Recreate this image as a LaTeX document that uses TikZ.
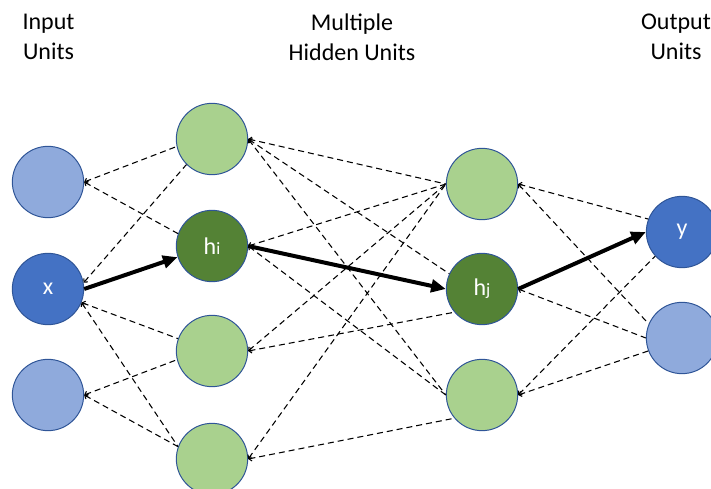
\documentclass[tikz,border=0pt]{standalone}
\usepackage{fontspec}
\setmainfont{Carlito}
\usetikzlibrary{arrows.meta}
\definecolor{paleblue}{HTML}{8FAADC}
\definecolor{midblue}{HTML}{4472C4}
\definecolor{rimblue}{HTML}{2F5597}
\definecolor{palegreen}{HTML}{A9D18E}
\definecolor{darkgreen}{HTML}{548235}
\begin{document}
\begin{tikzpicture}[x=0.75pt,y=-0.75pt,
  unit/.style={circle,draw=rimblue,line width=0.75pt,minimum size=53.5pt,inner sep=0pt,
    text=white,font=\fontsize{18}{22}\selectfont},
  inpale/.style={unit,fill=paleblue},
  inbold/.style={unit,fill=midblue},
  hidpale/.style={unit,fill=palegreen},
  hidbold/.style={unit,fill=darkgreen},
  link/.style={dash pattern=on 4.5pt off 3pt,line width=0.8pt,
    {Straight Barb[length=2pt,width=4pt]}-},
  flow/.style={line width=3pt,-{Triangle[length=11pt,width=9.5pt]}},
  title/.style={align=center,font=\fontsize{18}{22.5}\selectfont}
]
\useasboundingbox (0,0) rectangle (711,489);
\clip (0,0) rectangle (711,489);

% layer captions
\node[title] (capin)  at (48.5,37) {Input\\Units};
\node[title] (caphid) at (352,37)  {Multiple\\Hidden Units};
\node[title] (capout) at (676,37)  {Output\\Units};

% input layer
\node[inpale] (i1) at (48,182) {};
\node[inbold] (i2) at (48,289) {x};
\node[inpale] (i3) at (48,395) {};

% first hidden layer
\node[hidpale] (a1) at (212,139) {};
\node[hidbold] (a2) at (212,246) {h{\fontsize{13}{15}\selectfont i}};
\node[hidpale] (a3) at (212,351) {};
\node[hidpale] (a4) at (212,459) {};

% second hidden layer
\node[hidpale] (b1) at (482,184) {};
\node[hidbold] (b2) at (482,289) {h{\fontsize{13}{15}\selectfont j}};
\node[hidpale] (b3) at (482,395) {};

% output layer
\node[inbold] (o1) at (682,232) {y};
\node[inpale] (o2) at (682,338) {};

% weak connections
\draw[link] (i1.0) -- (a1.192);
\draw[link] (i1.0) -- (a2.160);
\draw[link] (i2.10) -- (a1.225);
\draw[link] (i2.-22) -- (a3.160);
\draw[link] (i2.-22) -- (a4.160);
\draw[link] (i3.0) -- (a3.194);
\draw[link] (i3.0) -- (a4.160);

\draw[link] (a1.0) -- (b1.180);
\draw[link] (a1.0) -- (b2.155);
\draw[link] (a1.0) -- (b3.180);
\draw[link] (a2.0) -- (b1.180);
\draw[link] (a2.0) -- (b3.180);
\draw[link] (a3.0) -- (b1.180);
\draw[link] (a3.0) -- (b2.220);
\draw[link] (a4.0) -- (b1.180);
\draw[link] (a4.0) -- (b3.220);

\draw[link] (b1.0) -- (o1.159);
\draw[link] (b1.0) -- (o2.157);
\draw[link] (b2.0) -- (o2.180);
\draw[link] (b3.0) -- (o1.222);
\draw[link] (b3.0) -- (o2.201);

% highlighted path
\draw[flow] (i2.0) -- (a2.198);
\draw[flow] (a2.0) -- (b2.180);
\draw[flow] (b2.0) -- (o1.180);
\end{tikzpicture}
\end{document}
